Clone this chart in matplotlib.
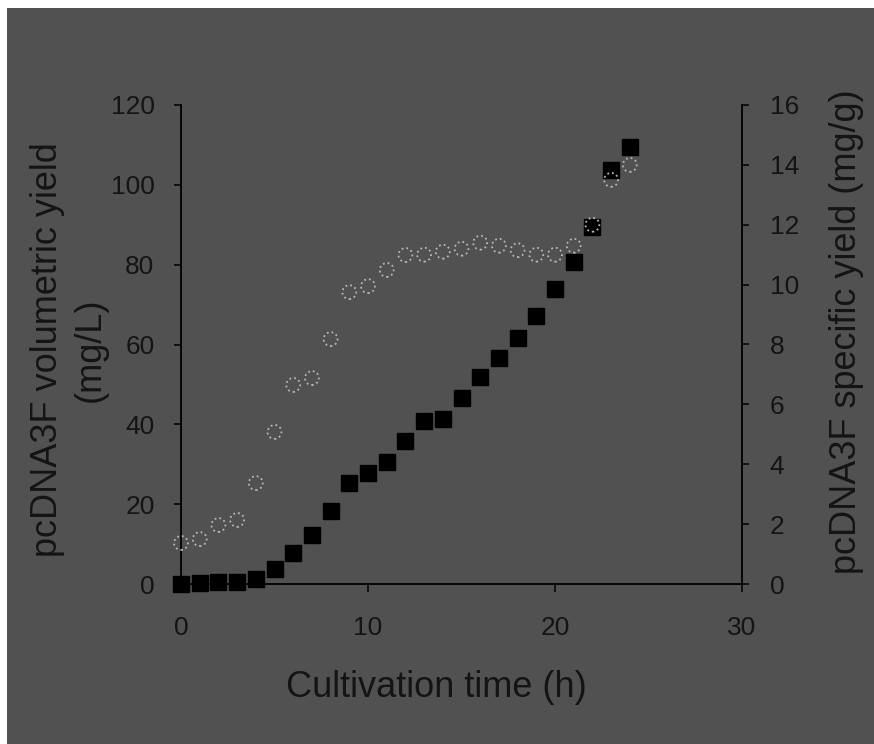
import matplotlib
matplotlib.use("Agg")
import matplotlib.pyplot as plt
from matplotlib.patches import Rectangle

plt.rcParams["font.family"] = ["Liberation Sans", "DejaVu Sans"]

# cultivation time (h)
hours = list(range(0, 25))
# pcDNA3F volumetric yield (mg/L)
vol_yield = [0.0, 0.2, 0.4, 0.4, 1.3, 3.8, 7.8, 12.3, 18.3, 25.3, 27.8, 30.6, 35.8,
             40.9, 41.4, 46.6, 51.9, 56.6, 61.7, 67.2, 73.9, 80.7, 89.5, 103.8, 109.5]
# pcDNA3F specific yield (mg/g)
spec_yield = [1.37, 1.50, 1.97, 2.14, 3.37, 5.08, 6.65, 6.88, 8.18, 9.75, 9.95, 10.49,
              10.99, 11.0, 11.1, 11.2, 11.4, 11.3, 11.15, 11.0, 11.0, 11.3, 12.0, 13.5, 14.0]

bg = "#515151"
ink = "#141414"

# gray panel with a thin white margin on the top and left
fig = plt.figure(figsize=(8.74, 7.44), dpi=100, facecolor=bg)
fig.patches.append(Rectangle((0, 0), 7 / 874, 1, transform=fig.transFigure,
                             facecolor="white", edgecolor="none", zorder=-10))
fig.patches.append(Rectangle((0, 1 - 8 / 744), 1, 8 / 744, transform=fig.transFigure,
                             facecolor="white", edgecolor="none", zorder=-10))

ax = fig.add_axes([181 / 874, 160 / 744, 561 / 874, 479 / 744])
ax.set_facecolor("none")
ax2 = ax.twinx()
ax2.set_facecolor("none")

ax.plot(hours, vol_yield, linestyle="none", marker="s", markersize=11,
        color="black", clip_on=False, zorder=5)
ax2.scatter(hours, spec_yield, s=10 ** 2, facecolors="none", edgecolors="#b8b8b8",
            linestyles=":", linewidths=1.3, clip_on=False, zorder=6)

ax.set_xlim(0, 30)
ax.set_ylim(0, 120)
ax2.set_ylim(0, 16)
ax.set_xticks([0, 10, 20, 30])
ax.set_yticks(range(0, 121, 20))
ax2.set_yticks(range(0, 17, 2))

for a in (ax, ax2):
    for s in a.spines.values():
        s.set_linewidth(1.3)
        s.set_color("black")
    a.spines["top"].set_visible(False)
ax.spines["right"].set_visible(False)
ax2.spines["left"].set_visible(False)
ax2.spines["bottom"].set_visible(False)

ax.tick_params(axis="y", direction="out", length=5, width=1.1, pad=14,
               labelsize=19, labelcolor=ink)
ax.tick_params(axis="x", direction="out", length=6, width=1.1, pad=17,
               labelsize=19, labelcolor=ink)
ax2.tick_params(axis="y", direction="out", length=5, width=1.1, pad=15,
                labelsize=19, labelcolor=ink)

ax.set_xlabel("Cultivation time (h)", fontsize=26, color=ink)
ax.xaxis.set_label_coords(0.456, -0.217)
ax.set_ylabel("pcDNA3F volumetric yield\n(mg/L)", fontsize=26, color=ink,
              multialignment="center", linespacing=1.3)
ax.yaxis.set_label_coords(-0.2, 0.489)
ax2.set_ylabel("pcDNA3F specific yield (mg/g)", fontsize=26, color=ink)
ax2.yaxis.set_label_coords(1.187, 0.527)
ax2.yaxis.label.set_va("center")
ax.yaxis.label.set_va("center")
ax.xaxis.label.set_va("center")

fig.savefig("out.png", dpi=100, facecolor=fig.get_facecolor())
